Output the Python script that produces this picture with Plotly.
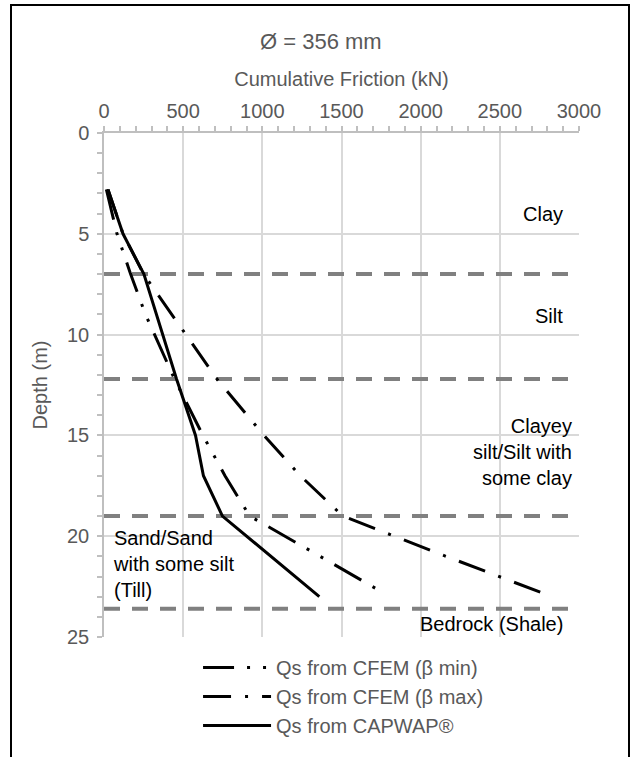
import plotly.graph_objects as go

# ---- data ----
depth_bmin = [2.8, 5, 7, 9, 12.2, 15, 17, 19, 21, 22.7]
qs_bmin = [15, 82, 168, 262, 445, 625, 764, 920, 1365, 1740]

depth_bmax = [2.8, 5, 7, 12.2, 15, 17, 19, 21, 23]
qs_bmax = [25, 120, 250, 713, 1010, 1240, 1508, 2160, 2830]

depth_capwap = [2.8, 5, 7, 12.2, 15, 17, 19, 23]
qs_capwap = [25, 120, 252, 458, 578, 628, 748, 1360]

layer_depths = [7, 12.2, 19, 23.6]
layer_names = ["Clay", "Silt", "Clayey<br>silt/Silt with<br>some clay", "Sand/Sand<br>with some silt<br>(Till)", "Bedrock (Shale)"]
layer_label_depths = [4.0, 9.1, 15.8, 21.4, 24.35]

series_names = ["Qs from CFEM (β min)", "Qs from CFEM (β max)", "Qs from CAPWAP®"]
x_ticks = [0, 500, 1000, 1500, 2000, 2500, 3000]
y_ticks = [0, 5, 10, 15, 20, 25]

FONT = "Liberation Sans, Arial, sans-serif"
GRAY_TXT = "#595959"

fig = go.Figure()

# layer boundary lines
for d in layer_depths:
    fig.add_trace(go.Scatter(
        x=[0, 3000], y=[d, d], mode="lines",
        line=dict(color="#808080", width=4, dash="16px,12px"),
        showlegend=False, hoverinfo="skip", cliponaxis=False))

fig.add_trace(go.Scatter(
    x=qs_bmin, y=depth_bmin, mode="lines", name=series_names[0],
    line=dict(color="black", width=3, dash="31px,13px,3px,13px,3px,13px")))
fig.add_trace(go.Scatter(
    x=qs_bmax, y=depth_bmax, mode="lines", name=series_names[1],
    line=dict(color="black", width=3, dash="28px,14px,3px,14px")))
fig.add_trace(go.Scatter(
    x=qs_capwap, y=depth_capwap, mode="lines", name=series_names[2],
    line=dict(color="black", width=3)))

# layer labels
anns = []
for i, (name, d) in enumerate(zip(layer_names, layer_label_depths)):
    if i == 3:
        anns.append(dict(x=44, y=d, xref="x", yref="y", text=name, showarrow=False,
                         xanchor="left", yanchor="middle", align="left",
                         font=dict(family=FONT, size=20, color="black")))
    else:
        xr = 2969 if i == 2 else 2912
        anns.append(dict(x=xr, y=d, xref="x", yref="y", text=name, showarrow=False,
                         xanchor="right", yanchor="middle", align="right",
                         font=dict(family=FONT, size=20, color="black")))

# chart title
anns.append(dict(x=0.457, y=(637 - 42) / 504, xref="paper", yref="paper", text="Ø = 356 mm",
                 showarrow=False, xanchor="center", yanchor="middle",
                 font=dict(family=FONT, size=22, color=GRAY_TXT)))

fig.update_layout(
    width=635, height=757,
    margin=dict(l=104, r=56, t=133, b=120),
    paper_bgcolor="white", plot_bgcolor="white",
    font=dict(family=FONT, size=20, color=GRAY_TXT),
    showlegend=True,
    legend=dict(x=0.198, y=-0.022, xanchor="left", yanchor="top",
                bgcolor="rgba(0,0,0,0)", itemwidth=68,
                font=dict(family=FONT, size=20, color=GRAY_TXT)),
    shapes=[dict(type="rect", xref="paper", yref="paper",
                 x0=(11 - 104) / 475, x1=(629 - 104) / 475,
                 y0=-0.3, y1=(637 - 5) / 504,
                 line=dict(color="black", width=2), fillcolor="rgba(0,0,0,0)",
                 layer="below")],
    annotations=anns,
)

fig.update_xaxes(
    side="top", range=[0, 3000], tickvals=x_ticks,
    showgrid=True, gridcolor="#d9d9d9", gridwidth=1.5,
    showline=True, linecolor="#bfbfbf", linewidth=1.5,
    ticks="outside", ticklen=5, tickcolor="#bfbfbf", tickwidth=1.5,
    minor=dict(dtick=100, ticks="outside", ticklen=5, tickcolor="#bfbfbf", tickwidth=1.5, showgrid=False),
    tickfont=dict(family=FONT, size=20, color=GRAY_TXT),
    title=dict(text="Cumulative Friction (kN)", standoff=8,
               font=dict(family=FONT, size=20, color=GRAY_TXT)),
    zeroline=False, mirror=False,
)
fig.update_yaxes(
    range=[25, 0], tickvals=y_ticks,
    showgrid=True, gridcolor="#d9d9d9", gridwidth=1.5,
    showline=True, linecolor="#bfbfbf", linewidth=1.5,
    ticks="outside", ticklen=5, tickcolor="#bfbfbf", tickwidth=1.5,
    minor=dict(dtick=1, ticks="outside", ticklen=5, tickcolor="#bfbfbf", tickwidth=1.5, showgrid=False),
    tickfont=dict(family=FONT, size=20, color=GRAY_TXT),
    ticklabelstandoff=4,
    title=dict(text="Depth (m)", standoff=14,
               font=dict(family=FONT, size=20, color=GRAY_TXT)),
    zeroline=False,
)

fig.write_html("out.html")
